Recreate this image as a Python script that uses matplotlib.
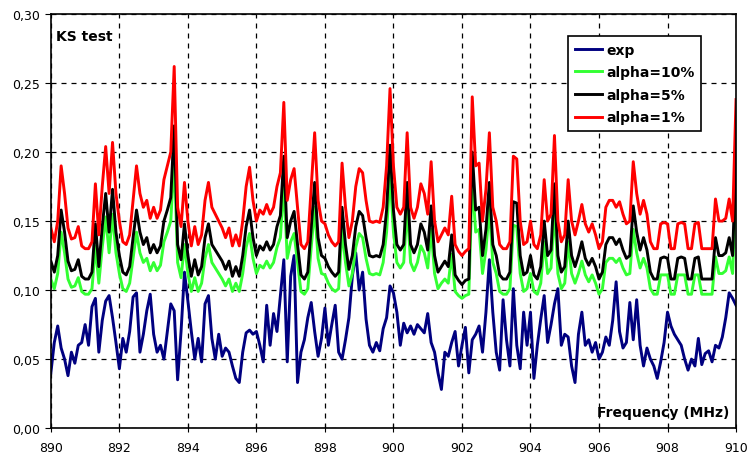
import numpy as np
import matplotlib
matplotlib.use("Agg")
import matplotlib.pyplot as plt
from matplotlib.ticker import FuncFormatter, MultipleLocator

# frequency grid, MHz (0.1 MHz step)
freq = np.round(np.arange(890.0, 910.05, 0.1), 1)

# KS statistic of the measurement
exp_ks = [
    0.040, 0.062, 0.074, 0.058, 0.050, 0.038, 0.055, 0.047, 0.060, 0.062,
    0.075, 0.060, 0.088, 0.094, 0.055, 0.078, 0.092, 0.096, 0.080, 0.062,
    0.043, 0.065, 0.055, 0.070, 0.095, 0.098, 0.055, 0.068, 0.085, 0.097,
    0.068, 0.055, 0.060, 0.050, 0.070, 0.090, 0.085, 0.035, 0.070, 0.113,
    0.092, 0.070, 0.050, 0.065, 0.048, 0.090, 0.096, 0.065, 0.050, 0.068,
    0.052, 0.058, 0.055, 0.045, 0.036, 0.033, 0.055, 0.069, 0.071, 0.068,
    0.070, 0.060, 0.048, 0.089, 0.060, 0.083, 0.070, 0.096, 0.122, 0.048,
    0.110, 0.125, 0.033, 0.055, 0.064, 0.080, 0.091, 0.070, 0.052, 0.065,
    0.087, 0.060, 0.075, 0.089, 0.055, 0.050, 0.064, 0.080, 0.110, 0.127,
    0.100, 0.113, 0.079, 0.060, 0.055, 0.062, 0.056, 0.072, 0.080, 0.103,
    0.098, 0.084, 0.060, 0.076, 0.069, 0.074, 0.068, 0.075, 0.072, 0.069,
    0.083, 0.062, 0.055, 0.040, 0.028, 0.055, 0.052, 0.062, 0.070, 0.045,
    0.060, 0.073, 0.040, 0.064, 0.068, 0.074, 0.055, 0.084, 0.122, 0.084,
    0.055, 0.042, 0.093, 0.064, 0.045, 0.101, 0.060, 0.043, 0.084, 0.060,
    0.084, 0.036, 0.060, 0.079, 0.096, 0.062, 0.075, 0.090, 0.101, 0.060,
    0.068, 0.066, 0.045, 0.033, 0.068, 0.084, 0.060, 0.064, 0.055, 0.062,
    0.050, 0.055, 0.066, 0.060, 0.078, 0.106, 0.070, 0.058, 0.062, 0.091,
    0.064, 0.093, 0.060, 0.045, 0.058, 0.050, 0.045, 0.036, 0.048, 0.062,
    0.084, 0.074, 0.068, 0.064, 0.060, 0.050, 0.042, 0.050, 0.045, 0.065,
    0.046, 0.054, 0.056, 0.048, 0.060, 0.058, 0.066, 0.080, 0.098, 0.094,
    0.089,
]

# critical values
alpha10 = [
    0.108, 0.101, 0.112, 0.142, 0.127, 0.108, 0.102, 0.103, 0.109, 0.099,
    0.097, 0.097, 0.101, 0.132, 0.105, 0.131, 0.153, 0.127, 0.155, 0.127,
    0.112, 0.101, 0.099, 0.105, 0.123, 0.142, 0.127, 0.120, 0.123, 0.114,
    0.120, 0.114, 0.118, 0.135, 0.142, 0.150, 0.196, 0.120, 0.109, 0.133,
    0.112, 0.099, 0.109, 0.099, 0.105, 0.123, 0.133, 0.120, 0.116, 0.112,
    0.108, 0.103, 0.108, 0.099, 0.105, 0.099, 0.112, 0.131, 0.141, 0.123,
    0.112, 0.118, 0.116, 0.121, 0.116, 0.120, 0.131, 0.138, 0.177, 0.123,
    0.135, 0.141, 0.120, 0.099, 0.097, 0.101, 0.131, 0.160, 0.123, 0.112,
    0.111, 0.105, 0.101, 0.099, 0.101, 0.144, 0.120, 0.103, 0.112, 0.131,
    0.141, 0.138, 0.123, 0.112, 0.111, 0.112, 0.111, 0.120, 0.142, 0.184,
    0.142, 0.120, 0.116, 0.120, 0.160, 0.120, 0.114, 0.120, 0.132, 0.127,
    0.116, 0.144, 0.112, 0.101, 0.105, 0.108, 0.105, 0.126, 0.099, 0.096,
    0.094, 0.096, 0.097, 0.180, 0.142, 0.144, 0.112, 0.129, 0.160, 0.120,
    0.112, 0.099, 0.097, 0.097, 0.101, 0.147, 0.146, 0.112, 0.099, 0.101,
    0.112, 0.099, 0.097, 0.105, 0.135, 0.112, 0.116, 0.159, 0.112, 0.101,
    0.105, 0.135, 0.112, 0.105, 0.112, 0.121, 0.111, 0.106, 0.111, 0.105,
    0.097, 0.101, 0.120, 0.123, 0.123, 0.120, 0.123, 0.116, 0.111, 0.112,
    0.144, 0.127, 0.116, 0.123, 0.116, 0.101, 0.097, 0.097, 0.111, 0.111,
    0.111, 0.097, 0.097, 0.111, 0.111, 0.111, 0.097, 0.097, 0.111, 0.111,
    0.097, 0.097, 0.097, 0.097, 0.124, 0.112, 0.112, 0.114, 0.124, 0.112,
    0.178,
]

alpha5 = [
    0.121, 0.113, 0.125, 0.158, 0.142, 0.121, 0.114, 0.115, 0.122, 0.110,
    0.108, 0.108, 0.113, 0.148, 0.117, 0.146, 0.170, 0.142, 0.173, 0.142,
    0.125, 0.113, 0.111, 0.117, 0.138, 0.158, 0.142, 0.133, 0.138, 0.127,
    0.133, 0.127, 0.132, 0.150, 0.158, 0.167, 0.219, 0.133, 0.122, 0.148,
    0.125, 0.110, 0.122, 0.111, 0.117, 0.138, 0.148, 0.133, 0.129, 0.125,
    0.121, 0.115, 0.121, 0.110, 0.117, 0.110, 0.125, 0.146, 0.158, 0.138,
    0.125, 0.132, 0.129, 0.135, 0.129, 0.133, 0.146, 0.154, 0.197, 0.138,
    0.150, 0.157, 0.133, 0.111, 0.108, 0.113, 0.146, 0.178, 0.138, 0.125,
    0.123, 0.117, 0.113, 0.110, 0.113, 0.160, 0.133, 0.115, 0.125, 0.146,
    0.157, 0.154, 0.138, 0.125, 0.124, 0.125, 0.124, 0.133, 0.158, 0.205,
    0.158, 0.133, 0.129, 0.133, 0.178, 0.133, 0.127, 0.133, 0.148, 0.142,
    0.129, 0.161, 0.125, 0.113, 0.117, 0.121, 0.117, 0.140, 0.111, 0.107,
    0.104, 0.107, 0.108, 0.200, 0.158, 0.160, 0.125, 0.144, 0.178, 0.133,
    0.125, 0.111, 0.108, 0.108, 0.113, 0.164, 0.163, 0.125, 0.111, 0.113,
    0.125, 0.111, 0.108, 0.117, 0.150, 0.125, 0.129, 0.177, 0.125, 0.113,
    0.117, 0.150, 0.125, 0.117, 0.125, 0.135, 0.123, 0.118, 0.123, 0.117,
    0.108, 0.113, 0.133, 0.138, 0.138, 0.133, 0.137, 0.129, 0.123, 0.125,
    0.161, 0.142, 0.129, 0.138, 0.129, 0.113, 0.108, 0.108, 0.123, 0.124,
    0.123, 0.108, 0.108, 0.123, 0.124, 0.123, 0.108, 0.108, 0.123, 0.124,
    0.108, 0.108, 0.108, 0.108, 0.138, 0.125, 0.125, 0.127, 0.138, 0.125,
    0.198,
]

alpha1 = [
    0.145, 0.135, 0.150, 0.190, 0.170, 0.145, 0.137, 0.138, 0.146, 0.132,
    0.130, 0.130, 0.135, 0.177, 0.140, 0.175, 0.204, 0.170, 0.207, 0.170,
    0.150, 0.135, 0.133, 0.140, 0.165, 0.190, 0.170, 0.160, 0.165, 0.152,
    0.160, 0.152, 0.158, 0.180, 0.190, 0.200, 0.262, 0.160, 0.146, 0.178,
    0.150, 0.132, 0.146, 0.133, 0.140, 0.165, 0.178, 0.160, 0.155, 0.150,
    0.145, 0.138, 0.145, 0.132, 0.140, 0.132, 0.150, 0.175, 0.189, 0.165,
    0.150, 0.158, 0.155, 0.162, 0.155, 0.160, 0.175, 0.185, 0.236, 0.165,
    0.180, 0.188, 0.160, 0.133, 0.130, 0.135, 0.175, 0.214, 0.165, 0.150,
    0.148, 0.140, 0.135, 0.132, 0.135, 0.192, 0.160, 0.138, 0.150, 0.175,
    0.188, 0.185, 0.165, 0.150, 0.149, 0.150, 0.149, 0.160, 0.190, 0.246,
    0.190, 0.160, 0.155, 0.160, 0.214, 0.160, 0.152, 0.160, 0.177, 0.170,
    0.155, 0.193, 0.150, 0.135, 0.140, 0.145, 0.140, 0.168, 0.133, 0.128,
    0.125, 0.128, 0.130, 0.240, 0.190, 0.192, 0.150, 0.173, 0.214, 0.160,
    0.150, 0.133, 0.130, 0.130, 0.135, 0.197, 0.195, 0.150, 0.133, 0.135,
    0.150, 0.133, 0.130, 0.140, 0.180, 0.150, 0.155, 0.212, 0.150, 0.135,
    0.140, 0.180, 0.150, 0.140, 0.150, 0.162, 0.148, 0.142, 0.148, 0.140,
    0.130, 0.135, 0.160, 0.165, 0.165, 0.160, 0.164, 0.155, 0.148, 0.150,
    0.193, 0.170, 0.155, 0.165, 0.155, 0.135, 0.130, 0.130, 0.148, 0.149,
    0.148, 0.130, 0.130, 0.148, 0.149, 0.148, 0.130, 0.130, 0.148, 0.149,
    0.130, 0.130, 0.130, 0.130, 0.166, 0.150, 0.150, 0.152, 0.166, 0.150,
    0.238,
]

fig = plt.figure(figsize=(7.48, 4.56), dpi=100)
ax = fig.add_axes([0.068, 0.059, 0.916, 0.908])

lw = 2.1
ax.plot(freq, exp_ks, color="#000080", lw=lw, label="exp")
ax.plot(freq, alpha10, color="#33ff33", lw=lw, label="alpha=10%")
ax.plot(freq, alpha5, color="black", lw=lw, label="alpha=5%")
ax.plot(freq, alpha1, color="#ff0000", lw=lw, label="alpha=1%")

ax.set_xlim(890, 910)
ax.set_ylim(0, 0.30)
ax.xaxis.set_major_locator(MultipleLocator(2))
ax.yaxis.set_major_locator(MultipleLocator(0.05))
ax.yaxis.set_major_formatter(FuncFormatter(lambda v, p: f"{v:.2f}".replace(".", ",")))
ax.grid(True, color="black", linestyle=(0, (4, 4)), linewidth=0.9)
ax.tick_params(axis="x", direction="inout", length=6, labelsize=9, pad=6)
ax.tick_params(axis="y", direction="out", length=4, labelsize=9)
for s in ax.spines.values():
    s.set_linewidth(1.2)

ax.text(0.008, 0.965, "KS test", transform=ax.transAxes, fontsize=10,
        fontweight="bold", va="top", ha="left")
ax.text(0.99, 0.04, "Frequency (MHz)", transform=ax.transAxes, fontsize=10,
        fontweight="bold", va="center", ha="right")

leg = ax.legend(loc="upper left", bbox_to_anchor=(0.745, 0.963), fancybox=False,
                edgecolor="black", framealpha=1, handlelength=2.0,
                handletextpad=0.3, borderpad=0.45, labelspacing=0.62,
                prop={"weight": "bold", "size": 10})
leg.get_frame().set_linewidth(1.2)

fig.savefig("out.png", dpi=100)
